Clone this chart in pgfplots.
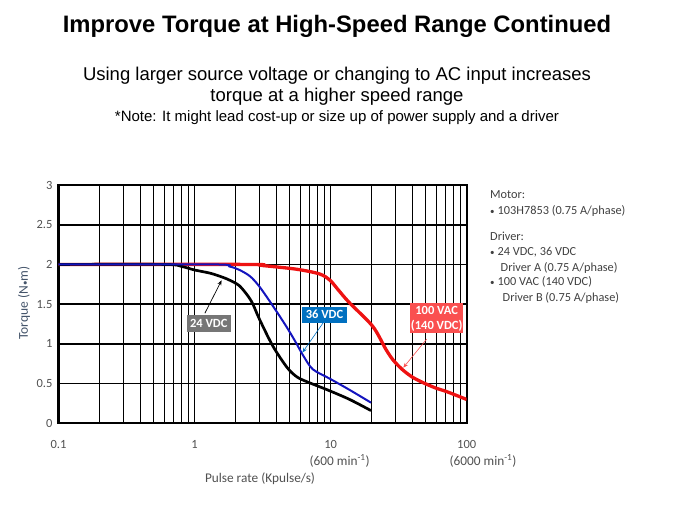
\documentclass[border=0pt]{standalone}
\usepackage{fontspec}
\setmainfont{Carlito}
\newfontfamily\arial{Liberation Sans}
\usepackage{pgfplots}
\pgfplotsset{compat=1.18}
\usetikzlibrary{arrows.meta}
\definecolor{tickgray}{RGB}{80,80,80}
\definecolor{ylabcol}{RGB}{68,84,106}
\definecolor{boxblue}{RGB}{0,112,192}
\definecolor{boxred}{RGB}{250,80,80}
\definecolor{boxgray}{RGB}{118,118,118}
\definecolor{curveblue}{RGB}{20,20,190}
\definecolor{curvered}{RGB}{238,18,18}
\definecolor{txtgray}{RGB}{64,64,64}

\begin{document}
\begin{tikzpicture}
\path[use as bounding box] (0,0) rectangle (675pt,506pt);
% titles
\node[anchor=base, font=\arial\bfseries\fontsize{23.8}{28}\selectfont] at (337pt,473pt) {Improve Torque at High-Speed Range Continued};
\node[anchor=base, font=\arial\fontsize{18.5}{22}\selectfont] at (337pt,425pt) {Using larger source voltage or changing to AC input increases};
\node[anchor=base, font=\arial\fontsize{18.5}{22}\selectfont] at (337pt,404pt) {torque at a higher speed range};
\node[anchor=base, font=\arial\fontsize{15}{18}\selectfont] at (337pt,384pt) {*Note: It might lead cost-up or size up of power supply and a driver};

\begin{axis}[
  at={(58.5pt,82.7pt)}, anchor=south west,
  scale only axis, width=408.2pt, height=238.3pt,
  xmode=log, xmin=0.1, xmax=100, ymin=0, ymax=3,
  xtick={0.1,1,10,100}, xticklabels={0.1,1,10,100},
  minor xtick={0.2,0.3,0.4,0.5,0.6,0.7,0.8,0.9,2,3,4,5,6,7,8,9,20,30,40,50,60,70,80,90},
  ytick={0,0.5,1,1.5,2,2.5,3},
  yticklabels={0,0.5,1,1.5,2,2.5,3},
  xmajorgrids, xminorgrids, ymajorgrids,
  x grid style={black, line width=0.9pt},
  y grid style={black, line width=1.6pt},
  major tick length=0pt, minor tick length=0pt,
  axis line style={black, line width=2.2pt},
  tick label style={font=\fontsize{12.5}{14}\selectfont, text=tickgray},
  xticklabel style={anchor=base, yshift=-25.2pt},
  yticklabel style={xshift=-2.5pt},
]
\addplot[curvered, line width=3.3pt, smooth, tension=0.5] coordinates {
(0.1,2) (2.5,2) (3.2,1.985) (5.6,1.94) (8.3,1.88) (9.9,1.80) (11.5,1.67) (13.7,1.52) (20.4,1.22) (25.5,0.93) (29,0.79) (34,0.67) (40,0.58) (48,0.51) (60,0.44) (71,0.40) (100,0.30)
};
\addplot[black, line width=2.7pt, smooth, tension=0.5] coordinates {
(0.1,2) (0.6,2) (0.8,1.975) (1,1.93) (1.3,1.89) (1.6,1.84) (1.82,1.80) (2.14,1.73) (2.5,1.59) (2.7,1.49) (3.0,1.31) (3.77,0.97) (4.8,0.70) (5.7,0.58) (7.0,0.51) (9.5,0.42) (13.8,0.30) (19.8,0.16)
};
\addplot[curveblue, line width=2pt, smooth, tension=0.5] coordinates {
(0.1,2) (1.4,2) (1.8,1.975) (2.14,1.93) (2.56,1.85) (3.0,1.72) (3.79,1.47) (4.72,1.22) (5.5,1.03) (6.3,0.85) (7.4,0.68) (9.9,0.56) (13.8,0.42) (19.8,0.26)
};
% annotations
\draw[black, line width=0.7pt, -{Stealth[length=5pt,width=4pt]}] (axis cs:1.19,1.385) -- (axis cs:1.58,1.80);
\node[fill=boxgray, text=white, font=\bfseries\fontsize{12.5}{14}\selectfont, minimum width=44.3pt, minimum height=16.7pt, inner sep=0pt] at (axis cs:1.272,1.259) {24 VDC};
\draw[boxblue, line width=0.6pt, -{Stealth[length=5pt,width=4pt]}] (axis cs:8.83,1.267) -- (axis cs:6.2,0.89);
\node[fill=boxblue, text=white, font=\bfseries\fontsize{12.5}{14}\selectfont, minimum width=45.6pt, minimum height=16pt, inner sep=0pt] at (axis cs:9.02,1.367) {36 VDC};
\draw[boxred, line width=0.6pt, -{Stealth[length=5pt,width=4pt]}] (axis cs:50.8,1.06) -- (axis cs:34.2,0.70);
\node[fill=boxred, text=white, font=\bfseries\fontsize{12.5}{15}\selectfont, align=center, minimum width=53pt, minimum height=30pt, inner sep=0pt] at (axis cs:60.2,1.32) {100 VAC\\(140 VDC)};
\end{axis}

% axis texts
\node[rotate=90, font=\fontsize{13.5}{15}\selectfont, text=ylabcol] at (24pt,203pt) {Torque (N{\fontsize{9}{10}\selectfont •}m)};
\node[anchor=base, font=\fontsize{13.3}{15}\selectfont, text=tickgray] at (339.7pt,40.2pt) {(600 min\textsuperscript{-1})};
\node[anchor=base, font=\fontsize{13.3}{15}\selectfont, text=tickgray] at (483pt,40.2pt) {(6000 min\textsuperscript{-1})};
\node[anchor=base, font=\fontsize{13.3}{15}\selectfont, text=tickgray] at (260pt,23pt) {Pulse rate (Kpulse/s)};

% side text
\begin{scope}[every node/.style={anchor=base west, inner sep=0pt, font=\fontsize{12.3}{14}\selectfont, text=txtgray}]
\node at (490pt,307pt) {Motor:};
\node at (490pt,291pt) {{\fontsize{9}{10}\selectfont •}\hspace{3pt}103H7853 (0.75 A/phase)};
\node at (490pt,265.5pt) {Driver:};
\node at (490pt,250pt) {{\fontsize{9}{10}\selectfont •}\hspace{3pt}24 VDC, 36 VDC};
\node at (500.5pt,234.5pt) {Driver A (0.75 A/phase)};
\node at (490pt,220pt) {{\fontsize{9}{10}\selectfont •}\hspace{3pt}100 VAC (140 VDC)};
\node at (502.5pt,204.5pt) {Driver B (0.75 A/phase)};
\end{scope}
\end{tikzpicture}
\end{document}
